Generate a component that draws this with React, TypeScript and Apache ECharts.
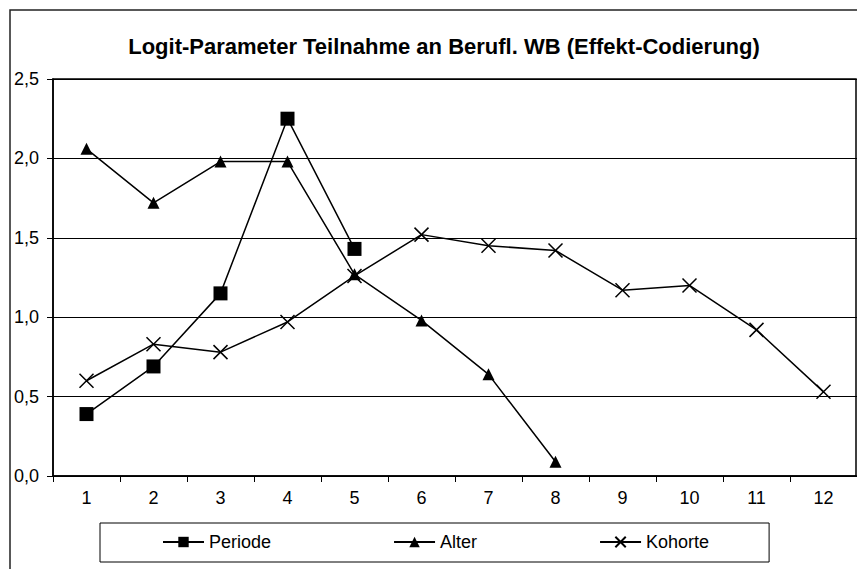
import React, { useEffect, useRef } from "react";
import * as echarts from "echarts";

const categories = ["1", "2", "3", "4", "5", "6", "7", "8", "9", "10", "11", "12"];
const periode = [0.39, 0.69, 1.15, 2.25, 1.43];
const alter = [2.06, 1.72, 1.98, 1.98, 1.27, 0.98, 0.64, 0.09];
const kohorte = [0.6, 0.83, 0.78, 0.97, 1.26, 1.52, 1.45, 1.42, 1.17, 1.2, 0.92, 0.53];
const seriesNames = ["Periode", "Alter", "Kohorte"];
const titleText = "Logit-Parameter Teilnahme an Berufl. WB (Effekt-Codierung)";

const FONT = "'Liberation Sans', Arial, sans-serif";
const X_PATH = "path://M0,0L10,10M10,0L0,10";

export default function App() {
  const ref = useRef<HTMLDivElement>(null);
  useEffect(() => {
    if (!ref.current) return;
    const chart = echarts.init(ref.current, undefined, { renderer: "svg" });
    const lineStyle = { color: "#000", width: 1.5 };
    chart.setOption({
      animation: false,
      backgroundColor: "#fff",
      title: {
        text: titleText,
        left: 439,
        top: 30,
        textAlign: "center",
        textStyle: { fontFamily: FONT, fontWeight: "bold", fontSize: 22, color: "#000" },
      },
      grid: { left: 53, top: 79, right: 0, bottom: 93, containLabel: false },
      xAxis: {
        type: "category",
        data: categories,
        boundaryGap: true,
        axisLine: { lineStyle: { color: "#000", width: 1.5 } },
        axisTick: { show: true, length: 6, inside: false, lineStyle: { color: "#000" } },
        axisLabel: { color: "#000", fontFamily: FONT, fontSize: 18, margin: 13 },
        splitLine: { show: false },
      },
      yAxis: {
        type: "value",
        min: 0,
        max: 2.5,
        interval: 0.5,
        axisLine: { show: true, lineStyle: { color: "#000", width: 1.5 } },
        axisTick: { show: true, length: 6, lineStyle: { color: "#000" } },
        axisLabel: {
          color: "#000",
          fontFamily: FONT,
          fontSize: 18,
          margin: 14,
          formatter: (v: number) => v.toFixed(1).replace(".", ","),
        },
        splitLine: { show: true, lineStyle: { color: "#000", width: 1 } },
      },
      legend: {
        data: seriesNames,
        left: 100,
        top: 523,
        padding: [10, 60, 11, 62],
        itemGap: 122,
        itemWidth: 41,
        itemHeight: 13,
        borderColor: "#000",
        borderWidth: 1,
        textStyle: { fontFamily: FONT, fontSize: 18, color: "#000" },
      },
      graphic: [
        {
          type: "rect",
          shape: { x: 10, y: 10, width: 880, height: 600 },
          style: { fill: "none", stroke: "#222", lineWidth: 1.5 },
          silent: true,
        },
        {
          type: "rect",
          shape: { x: 53, y: 79, width: 803, height: 397 },
          style: { fill: "none", stroke: "#000", lineWidth: 1.5 },
          silent: true,
        },
      ],
      series: [
        {
          name: "Periode",
          type: "line",
          data: periode,
          symbol: "rect",
          symbolSize: 14,
          lineStyle,
          itemStyle: { color: "#000" },
        },
        {
          name: "Alter",
          type: "line",
          data: alter,
          symbol: "triangle",
          symbolSize: 12,
          lineStyle,
          itemStyle: { color: "#000" },
        },
        {
          name: "Kohorte",
          type: "line",
          data: kohorte,
          symbol: X_PATH,
          symbolSize: 14,
          lineStyle,
          itemStyle: { color: "#000", borderColor: "#000", borderWidth: 1.5 },
        },
      ],
    });
    return () => chart.dispose();
  }, []);
  return (
    <div
      ref={ref}
      style={{ position: "fixed", left: 0, top: 0, width: 857, height: 569, background: "#fff" }}
    />
  );
}
